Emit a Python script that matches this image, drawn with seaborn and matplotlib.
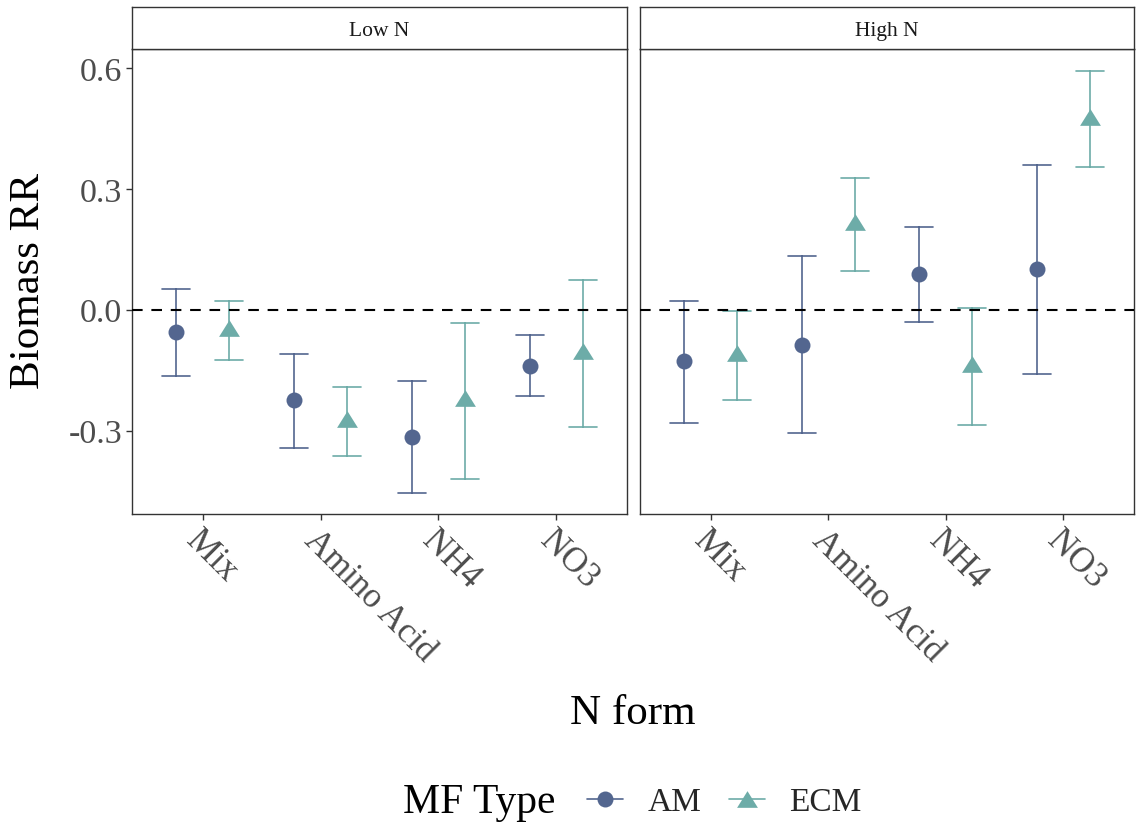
import numpy as np
import pandas as pd
import matplotlib
matplotlib.use("Agg")
import matplotlib.pyplot as plt
import matplotlib.transforms as mtransforms
import seaborn as sns
from matplotlib.lines import Line2D
from matplotlib.path import Path

# ---------------- data ----------------
n_forms = ["Mix", "Amino Acid", "NH4", "NO3"]
n_levels = ["Low N", "High N"]
mf_types = ["AM", "ECM"]

low_am_est = [-0.056, -0.225, -0.315, -0.139]
low_am_lo = [-0.165, -0.343, -0.456, -0.214]
low_am_hi = [0.051, -0.109, -0.176, -0.063]
low_ecm_est = [-0.045, -0.270, -0.219, -0.103]
low_ecm_lo = [-0.125, -0.362, -0.419, -0.290]
low_ecm_hi = [0.021, -0.191, -0.034, 0.073]

high_am_est = [-0.128, -0.087, 0.088, 0.100]
high_am_lo = [-0.281, -0.306, -0.030, -0.160]
high_am_hi = [0.022, 0.133, 0.205, 0.359]
high_ecm_est = [-0.108, 0.217, -0.135, 0.479]
high_ecm_lo = [-0.225, 0.096, -0.286, 0.354]
high_ecm_hi = [-0.002, 0.326, 0.004, 0.593]

y_ticks = [-0.3, 0.0, 0.3, 0.6]
y_tick_labels = ["-0.3", "0.0", "0.3", "0.6"]

series = {
    ("Low N", "AM"): (low_am_lo, low_am_est, low_am_hi),
    ("Low N", "ECM"): (low_ecm_lo, low_ecm_est, low_ecm_hi),
    ("High N", "AM"): (high_am_lo, high_am_est, high_am_hi),
    ("High N", "ECM"): (high_ecm_lo, high_ecm_est, high_ecm_hi),
}

rows = []
for (lvl, mf), (lo, est, hi) in series.items():
    for i, f in enumerate(n_forms):
        for v in (lo[i], est[i], hi[i]):
            rows.append({"level": lvl, "form": f, "type": mf, "rr": v})
df = pd.DataFrame(rows)

# ---------------- style ----------------
sns.set_style("white")
plt.rcParams["font.family"] = ["Liberation Serif", "DejaVu Serif"]

col_am = "#53668F"
col_ecm = "#6DACA8"
palette = {"AM": col_am, "ECM": col_ecm}
spine_col = "#333333"
tri = Path([(-1, -0.8), (1, -0.8), (0, 0.8), (-1, -0.8)],
           [Path.MOVETO, Path.LINETO, Path.LINETO, Path.CLOSEPOLY])
markers = ["o", tri]

W, H = 1139, 828
fig = plt.figure(figsize=(W / 100, H / 100), dpi=100)

panels = [(132, 627), (640, 1134)]
ax_top, ax_bot, strip_top = 50, 515, 8

for k, (lvl, (x0, x1)) in enumerate(zip(n_levels, panels)):
    ax = fig.add_axes([x0 / W, 1 - ax_bot / H, (x1 - x0) / W, (ax_bot - ax_top) / H])
    sub = df[df["level"] == lvl]
    sns.pointplot(data=sub, x="form", y="rr", hue="type", order=n_forms,
                  hue_order=mf_types, palette=palette, estimator="median",
                  errorbar=("pi", 100), dodge=0.45, markers=markers,
                  linestyles="none", capsize=0.24, err_kws={"linewidth": 1.2},
                  markersize=11.5, markeredgewidth=0, legend=False, ax=ax)
    # enlarge the triangle markers
    for ln in ax.lines:
        if ln.get_marker() not in ("o", "None", "", None) and ln.get_marker() is not None:
            mk = ln.get_marker()
            if not isinstance(mk, str):
                ln.set_markersize(15)
    ax.axhline(0, color="black", linestyle=(0, (5.1, 4.2)), linewidth=1.5, zorder=10)
    ax.set_xlim(-0.6, 3.6)
    ax.set_ylim(-0.507, 0.647)
    ax.set_xlabel("")
    ax.set_ylabel("")
    for s in ax.spines.values():
        s.set_color(spine_col)
        s.set_linewidth(1.0)
    ax.set_xticks(range(len(n_forms)))
    ax.set_xticklabels(n_forms, rotation=-45, ha="left", va="top",
                       rotation_mode="anchor", fontsize=25, color="#4D4D4D")
    off = mtransforms.ScaledTranslation(3 / 100, 0, fig.dpi_scale_trans)
    for lab in ax.get_xticklabels():
        lab.set_transform(lab.get_transform() + off)
    ax.tick_params(axis="x", length=4, width=1.0, color=spine_col, pad=3, bottom=True)
    ax.set_yticks(y_ticks)
    if k == 0:
        ax.set_yticklabels(y_tick_labels, fontsize=24.5, color="#4D4D4D")
        ax.tick_params(axis="y", length=4, width=1.0, color=spine_col, pad=3, left=True)
    else:
        ax.tick_params(axis="y", left=False, labelleft=False)
    # strip
    sax = fig.add_axes([x0 / W, 1 - ax_top / H, (x1 - x0) / W, (ax_top - strip_top) / H])
    sax.set_xticks([])
    sax.set_yticks([])
    for s in sax.spines.values():
        s.set_color(spine_col)
        s.set_linewidth(1.0)
    sax.text(0.5, 0.45, lvl, ha="center", va="center", fontsize=15.5, color="#1A1A1A",
             transform=sax.transAxes)

fig.text(29 / W, 1 - 281 / H, "Biomass RR", rotation=90, ha="center", va="center",
         fontsize=31, color="black")
fig.text(633 / W, 1 - 714 / H, "N form", ha="center", va="center",
         fontsize=31, color="black")

# legend
fig.text(403 / W, 1 - 803 / H, "MF Type", ha="left", va="center", fontsize=30, color="black")
handles = [
    Line2D([], [], color=col_am, marker="o", markersize=11.5, markeredgewidth=0, linewidth=1.2),
    Line2D([], [], color=col_ecm, marker=tri, markersize=15, markeredgewidth=0, linewidth=1.2),
]
fig.legend(handles, mf_types, loc="center left", bbox_to_anchor=(587 / W, 1 - 803 / H),
           ncol=2, frameon=False, fontsize=24, handlelength=1.08, handletextpad=0.75,
           columnspacing=0.8, borderpad=0, borderaxespad=0)

fig.savefig("out.png", dpi=100)
